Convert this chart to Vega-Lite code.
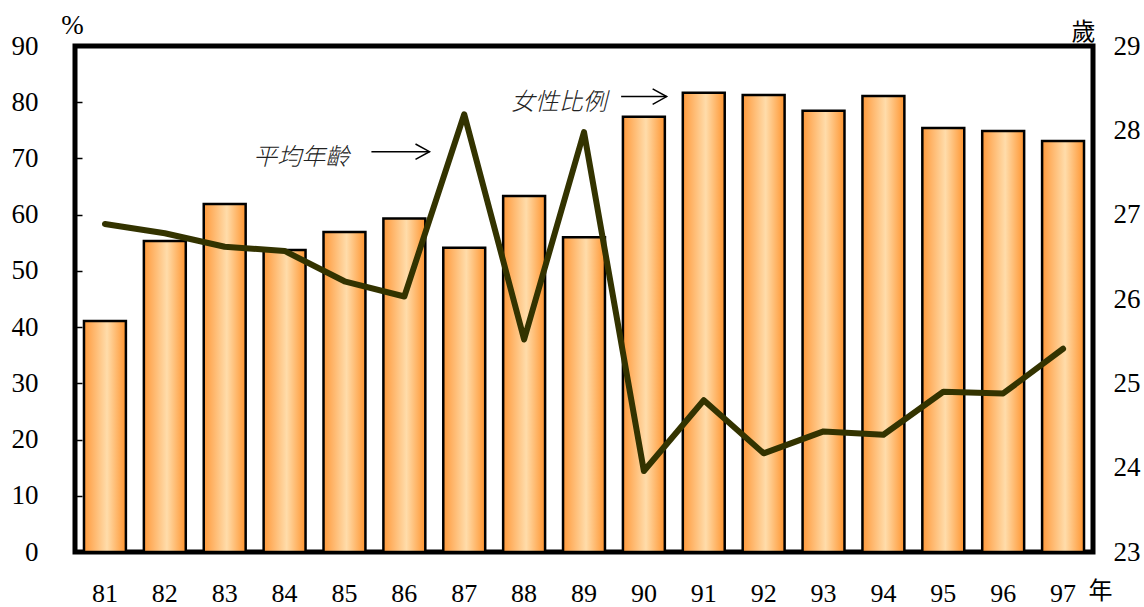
{
  "$schema": "https://vega.github.io/schema/vega-lite/v6.json",
  "autosize": {"type": "none"},
  "width": 1018,
  "height": 506,
  "padding": {"left": 75, "top": 46, "right": 51, "bottom": 55},
  "background": "white",
  "config": {
    "view": {"stroke": "black", "strokeWidth": 5},
    "axis": {"labelFont": "Liberation Serif", "labelFontSize": 27, "labelColor": "black", "titleFont": "Liberation Serif", "titleColor": "black", "titleFontWeight": "normal"}
  },
  "datasets": {
    "main": [
      {"year": "81", "ratio": 41.1, "age": 26.89},
      {"year": "82", "ratio": 55.3, "age": 26.78},
      {"year": "83", "ratio": 61.9, "age": 26.62},
      {"year": "84", "ratio": 53.7, "age": 26.57},
      {"year": "85", "ratio": 56.9, "age": 26.21},
      {"year": "86", "ratio": 59.3, "age": 26.03},
      {"year": "87", "ratio": 54.1, "age": 28.19},
      {"year": "88", "ratio": 63.3, "age": 25.52},
      {"year": "89", "ratio": 56.0, "age": 27.98},
      {"year": "90", "ratio": 77.4, "age": 23.96},
      {"year": "91", "ratio": 81.7, "age": 24.8},
      {"year": "92", "ratio": 81.3, "age": 24.17},
      {"year": "93", "ratio": 78.5, "age": 24.43},
      {"year": "94", "ratio": 81.1, "age": 24.39},
      {"year": "95", "ratio": 75.4, "age": 24.9},
      {"year": "96", "ratio": 74.9, "age": 24.88},
      {"year": "97", "ratio": 73.1, "age": 25.41}
    ],
    "notes": [
      {"label": "平均年齡", "px": 3.78, "py": 70.1},
      {"label": "女性比例", "px": 8.08, "py": 79.9}
    ],
    "arrows": [
      {"ax": 4.95, "ax2": 5.92, "ay": 71.2},
      {"ax": 9.12, "ax2": 9.88, "ay": 81.0}
    ]
  },
  "layer": [
    {
      "data": {"name": "main"},
      "mark": {
        "type": "bar",
        "stroke": "black",
        "strokeWidth": 2.5,
        "color": {"gradient": "linear", "x1": 0, "y1": 0, "x2": 1, "y2": 0,
          "stops": [
            {"offset": 0, "color": "#ff9a3c"},
            {"offset": 0.55, "color": "#ffdcaa"},
            {"offset": 1, "color": "#ff9530"}
          ]}
      },
      "encoding": {
        "x": {
          "field": "year", "type": "ordinal",
          "scale": {"paddingInner": 0.3, "paddingOuter": 0.15},
          "axis": {"title": "年", "titleFont": "Noto Sans CJK TC", "titleFontSize": 24, "titleAngle": 0, "titleX": 1025, "titleY": 46, "titleAlign": "center", "titleBaseline": "alphabetic", "labelAngle": 0, "labelFontSize": 26, "domain": false, "ticks": false, "labelPadding": 28}
        },
        "y": {
          "field": "ratio", "type": "quantitative",
          "scale": {"domain": [0, 90]},
          "axis": {"title": "%", "titleFontSize": 27, "titleAngle": 0, "titleX": -3, "titleY": -13, "titleAlign": "center", "titleBaseline": "alphabetic", "values": [0, 10, 20, 30, 40, 50, 60, 70, 80, 90], "domain": false, "grid": false, "ticks": true, "tickSize": -7, "tickColor": "black", "tickWidth": 1.5, "labelPadding": 44}
        }
      }
    },
    {
      "data": {"name": "main"},
      "mark": {"type": "line", "color": "#333300", "strokeWidth": 6, "strokeCap": "round", "strokeJoin": "round"},
      "encoding": {
        "x": {"field": "year", "type": "ordinal", "axis": null},
        "y": {
          "field": "age", "type": "quantitative",
          "scale": {"domain": [23, 29]},
          "axis": {"orient": "right", "title": "歲", "titleFont": "Noto Sans CJK TC", "titleFontSize": 24, "titleAngle": 0, "titleX": -10, "titleY": -7, "titleAlign": "center", "titleBaseline": "alphabetic", "values": [23, 24, 25, 26, 27, 28, 29], "domain": false, "grid": false, "ticks": false, "labelPadding": 20}
        }
      }
    },
    {
      "data": {"name": "notes"},
      "mark": {"type": "text", "font": "Noto Sans CJK TC", "fontSize": 24, "fontStyle": "italic", "fontWeight": 300, "color": "#222222", "align": "center", "baseline": "middle"},
      "encoding": {
        "text": {"field": "label"},
        "x": {"field": "px", "type": "quantitative", "scale": {"domain": [0, 17]}, "axis": null},
        "y": {"field": "py", "type": "quantitative", "scale": {"domain": [0, 90]}, "axis": null}
      }
    },
    {
      "data": {"name": "arrows"},
      "mark": {"type": "rule", "color": "black", "strokeWidth": 1.5},
      "encoding": {
        "x": {"field": "ax", "type": "quantitative", "scale": {"domain": [0, 17]}, "axis": null},
        "x2": {"field": "ax2"},
        "y": {"field": "ay", "type": "quantitative", "scale": {"domain": [0, 90]}, "axis": null}
      }
    },
    {
      "data": {"name": "arrows"},
      "mark": {"type": "point", "shape": "M-1,-0.55L0,0L-1,0.55", "filled": false, "stroke": "black", "strokeWidth": 1.5, "size": 784, "opacity": 1},
      "encoding": {
        "x": {"field": "ax2", "type": "quantitative", "scale": {"domain": [0, 17]}, "axis": null},
        "y": {"field": "ay", "type": "quantitative", "scale": {"domain": [0, 90]}, "axis": null}
      }
    }
  ],
  "resolve": {"scale": {"y": "independent", "x": "independent"}}
}
